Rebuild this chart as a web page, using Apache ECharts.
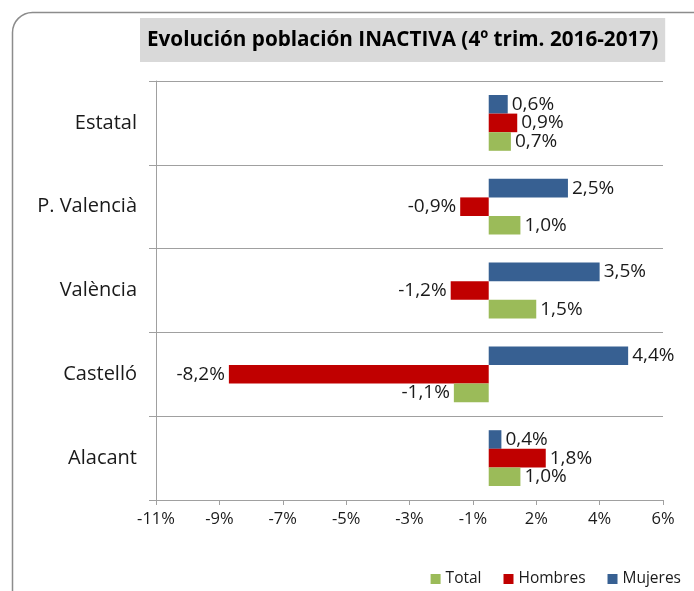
<!DOCTYPE html>
<html>
<head>
<meta charset="utf-8">
<script src="https://cdn.jsdelivr.net/npm/echarts@6/dist/echarts.min.js"></script>
<style>html,body{margin:0;padding:0;background:#fff;}#c{width:694px;height:591px;}</style>
</head>
<body>
<div id="c"></div>
<script>
// Categories listed bottom-to-top (ECharts category y axis starts at bottom)
var categories = ['Alacant', 'Castelló', 'València', 'P. Valencià', 'Estatal'];
var totalValues   = [1.0, -1.1, 1.5, 1.0, 0.7];
var hombresValues = [1.8, -8.2, -1.2, -0.9, 0.9];
var mujeresValues = [0.4, 4.4, 3.5, 2.5, 0.6];
var tickLabels = ['-11%', '-9%', '-7%', '-5%', '-3%', '-1%', '2%', '4%', '6%'];
var axisMin = -10.5, axisMax = 5.5, axisStep = 2;

var FONT = 'Open Sans';
function fmt(v) { return v.toFixed(1).replace('.', ',') + '%'; }
function items(arr) {
  return arr.map(function (v) {
    return { value: v, label: { position: v < 0 ? 'left' : 'right' } };
  });
}
function mkSeries(name, arr, color) {
  return {
    name: name, type: 'bar', data: items(arr), barWidth: 18.6, barGap: '0%',
    itemStyle: { color: color },
    label: { show: true, distance: 4, color: '#1a1a1a', fontFamily: FONT, fontSize: 19,
      formatter: function (p) { return fmt(p.value); } }
  };
}

var chart = echarts.init(document.getElementById('c'));
chart.setOption({
  animation: false,
  backgroundColor: '#fff',
  title: {
    text: 'Evolución población INACTIVA (4º trim. 2016-2017)',
    left: 140, top: 18, padding: [9, 7, 9, 7],
    backgroundColor: '#d9d9d9',
    textStyle: { fontFamily: FONT, fontWeight: 'bold', fontSize: 20.7, color: '#000', lineHeight: 26 }
  },
  legend: {
    data: ['Total', 'Hombres', 'Mujeres'],
    right: 8, top: 566, icon: 'rect', itemWidth: 10, itemHeight: 10, itemGap: 22,
    textStyle: { fontFamily: FONT, fontSize: 15.5, color: '#1a1a1a' }
  },
  graphic: [{
    type: 'rect', silent: true,
    shape: { x: 12.5, y: 12.5, width: 720, height: 640, r: 20 },
    style: { fill: 'none', stroke: '#8c8c8c', lineWidth: 1.5 }
  }],
  grid: { left: 156, right: 31, top: 81, bottom: 91 },
  xAxis: {
    type: 'value', min: axisMin, max: axisMax, interval: axisStep,
    axisLine: { show: true, lineStyle: { color: '#a0a0a0' } },
    axisTick: { show: true, length: 5, lineStyle: { color: '#a0a0a0' } },
    splitLine: { show: false },
    axisLabel: {
      margin: 11, fontFamily: FONT, fontSize: 16.5, color: '#1a1a1a',
      formatter: function (v) { return tickLabels[Math.round((v - axisMin) / axisStep)]; }
    }
  },
  yAxis: [{
    type: 'category', data: categories,
    axisLine: { show: false }, axisTick: { show: false },
    splitLine: { show: true, lineStyle: { color: '#a0a0a0', width: 1 } },
    axisLabel: { margin: 19, fontFamily: FONT, fontSize: 20, color: '#1a1a1a' }
  }, {
    type: 'category', data: categories, position: 'left',
    axisLine: { show: true, onZero: true, lineStyle: { color: '#a0a0a0' } },
    axisTick: { show: true, length: 7, lineStyle: { color: '#a0a0a0' } },
    axisLabel: { show: false }, splitLine: { show: false }
  }],
  series: [
    mkSeries('Mujeres', mujeresValues, '#376092'),
    mkSeries('Hombres', hombresValues, '#c00000'),
    mkSeries('Total', totalValues, '#9bbb59')
  ]
});
</script>
</body>
</html>
